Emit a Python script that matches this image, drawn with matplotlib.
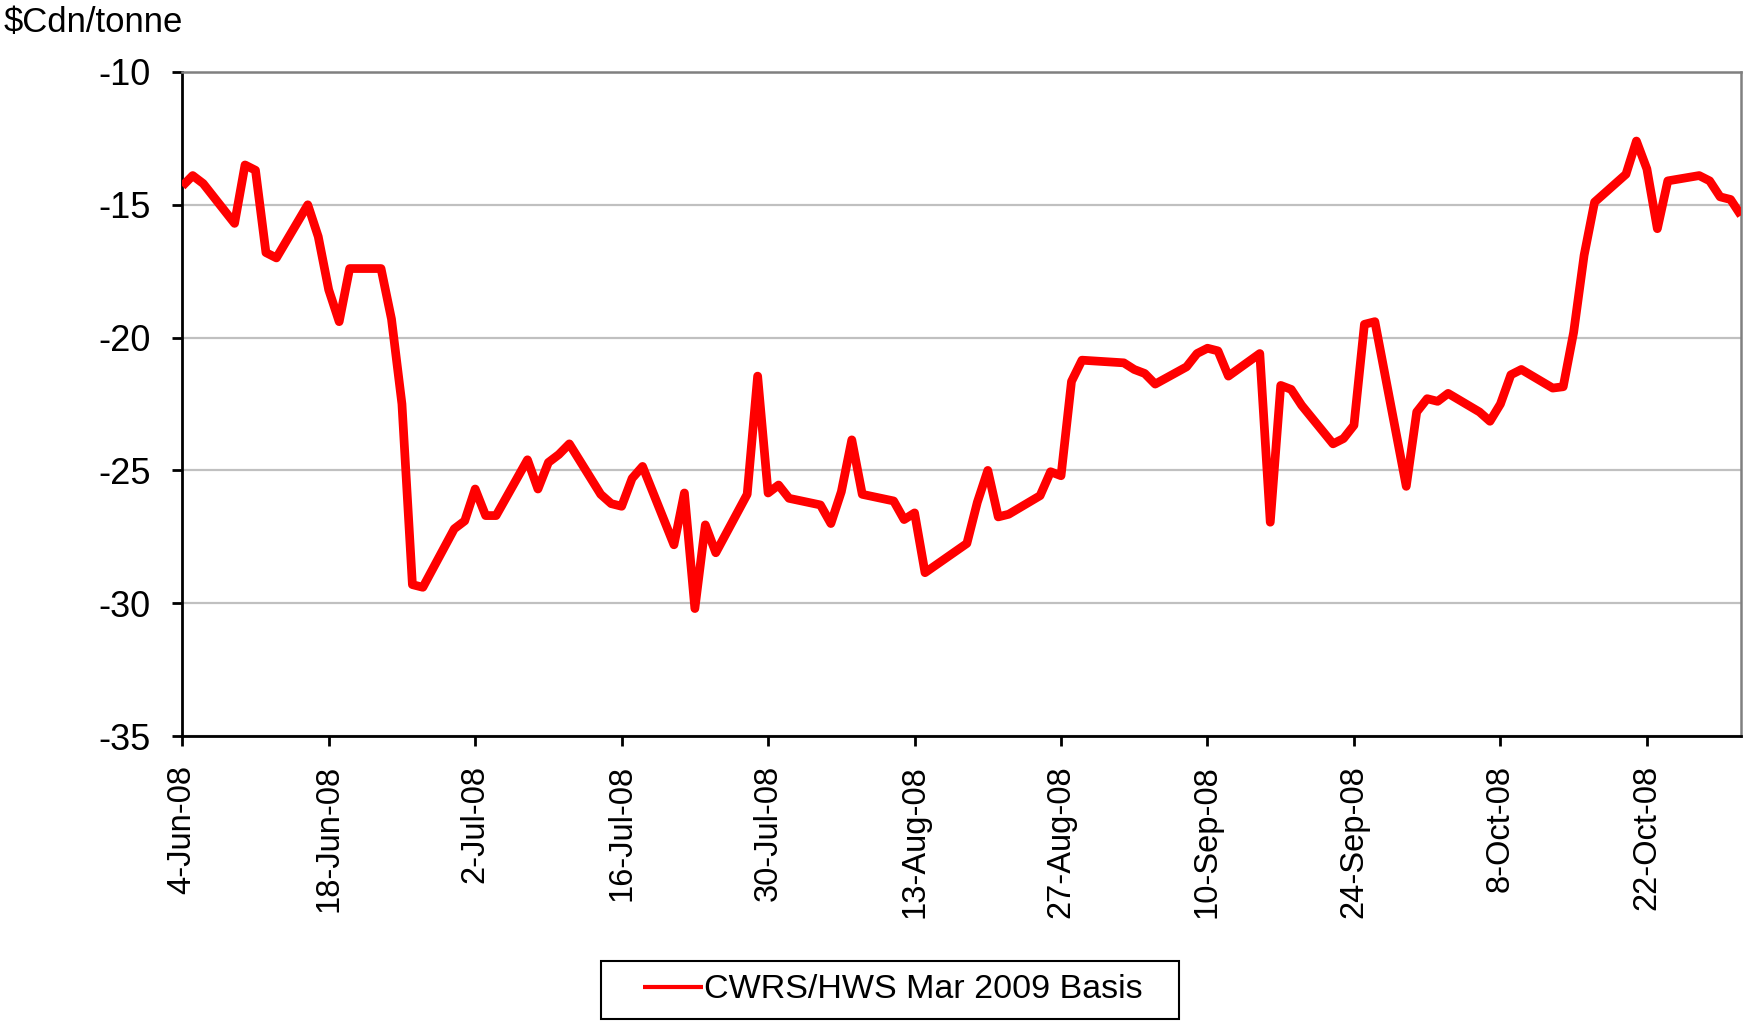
import matplotlib
matplotlib.use("Agg")
import matplotlib.pyplot as plt
import numpy as np
from matplotlib.patches import Rectangle

plt.rcParams['font.family'] = ['Liberation Sans', 'DejaVu Sans']

# CWRS/HWS March 2009 basis, $Cdn/tonne
dates = [
    "2008-06-04", "2008-06-05", "2008-06-06", "2008-06-09", "2008-06-10", "2008-06-11",
    "2008-06-12", "2008-06-13", "2008-06-16", "2008-06-17", "2008-06-18", "2008-06-19",
    "2008-06-20", "2008-06-23", "2008-06-24", "2008-06-25", "2008-06-26", "2008-06-27",
    "2008-06-30", "2008-07-01", "2008-07-02", "2008-07-03", "2008-07-04", "2008-07-07",
    "2008-07-08", "2008-07-09", "2008-07-10", "2008-07-11", "2008-07-14", "2008-07-15",
    "2008-07-16", "2008-07-17", "2008-07-18", "2008-07-21", "2008-07-22", "2008-07-23",
    "2008-07-24", "2008-07-25", "2008-07-28", "2008-07-29", "2008-07-30", "2008-07-31",
    "2008-08-01", "2008-08-04", "2008-08-05", "2008-08-06", "2008-08-07", "2008-08-08",
    "2008-08-11", "2008-08-12", "2008-08-13", "2008-08-14", "2008-08-18", "2008-08-19",
    "2008-08-20", "2008-08-21", "2008-08-22", "2008-08-25", "2008-08-26", "2008-08-27",
    "2008-08-28", "2008-08-29", "2008-09-02", "2008-09-03", "2008-09-04", "2008-09-05",
    "2008-09-08", "2008-09-09", "2008-09-10", "2008-09-11", "2008-09-12", "2008-09-15",
    "2008-09-16", "2008-09-17", "2008-09-18", "2008-09-19", "2008-09-22", "2008-09-23",
    "2008-09-24", "2008-09-25", "2008-09-26", "2008-09-29", "2008-09-30", "2008-10-01",
    "2008-10-02", "2008-10-03", "2008-10-06", "2008-10-07", "2008-10-08", "2008-10-09",
    "2008-10-10", "2008-10-13", "2008-10-14", "2008-10-15", "2008-10-16", "2008-10-17",
    "2008-10-20", "2008-10-21", "2008-10-22", "2008-10-23", "2008-10-24", "2008-10-27",
    "2008-10-28", "2008-10-29", "2008-10-30", "2008-10-31",
]
basis = [
    -14.3, -13.9, -14.2, -15.7, -13.5, -13.7,
    -16.8, -17.0, -15.0, -16.2, -18.2, -19.4,
    -17.4, -17.4, -19.3, -22.5, -29.3, -29.4,
    -27.2, -26.9, -25.7, -26.7, -26.7, -24.6,
    -25.7, -24.7, -24.4, -24.0, -25.9, -26.25,
    -26.35, -25.3, -24.85, -27.8, -25.85, -30.2,
    -27.05, -28.1, -25.9, -21.45, -25.85, -25.55,
    -26.05, -26.3, -27.0, -25.8, -23.85, -25.9,
    -26.15, -26.85, -26.6, -28.85, -27.75, -26.2,
    -25.0, -26.75, -26.65, -25.95, -25.05, -25.2,
    -21.65, -20.85, -20.95, -21.2, -21.35, -21.75,
    -21.1, -20.6, -20.4, -20.5, -21.45, -20.6,
    -26.95, -21.8, -21.95, -22.55, -24.0, -23.8,
    -23.3, -19.5, -19.4, -25.6, -22.8, -22.3,
    -22.4, -22.1, -22.8, -23.15, -22.5, -21.4,
    -21.2, -21.9, -21.85, -19.8, -16.9, -14.9,
    -13.85, -12.6, -13.65, -15.9, -14.1, -13.9,
    -14.1, -14.7, -14.8, -15.4,
]
series_label = "CWRS/HWS Mar 2009 Basis"
y_ticks = [-35, -30, -25, -20, -15, -10]

x = np.array(dates, dtype="datetime64[D]")
y = np.array(basis)

fig = plt.figure(figsize=(17.44, 10.21), dpi=100)
ax = fig.add_axes([0.1045, 0.2791, 0.8938, 0.6504])

ax.plot(x, y, color="#ff0000", lw=6.3, solid_joinstyle="round",
        solid_capstyle="butt", label=series_label, zorder=3)

ax.set_xlim(x[0], x[-1])
ax.set_ylim(-35, -10)
ax.set_yticks(y_ticks)
ax.set_yticklabels([str(v) for v in y_ticks])

xt = np.arange(x[0], x[-1] + 1, 14)
ax.set_xticks(xt)
ax.set_xticklabels([f"{d.day}-{d.strftime('%b-%y')}" for d in xt.astype(object)],
                   rotation=90, ha="center", va="top")

ax.grid(axis="y", color="#c0c0c0", lw=1.6, zorder=1)
for s in ("top", "right"):
    ax.spines[s].set_color("#808080")
    ax.spines[s].set_linewidth(1.8)
for s in ("left", "bottom"):
    ax.spines[s].set_color("black")
    ax.spines[s].set_linewidth(2)

ax.tick_params(axis="y", length=7.5, width=2, pad=15, labelsize=26)
ax.tick_params(axis="x", length=7, width=2, pad=14, labelsize=23.5)

fig.text(0.002, 0.9687, "$Cdn/tonne", fontsize=25, ha="left", va="baseline")

leg = ax.legend(loc="center", bbox_to_anchor=(0.512, 0.0304),
                bbox_transform=fig.transFigure, frameon=False,
                fontsize=24.5, handlelength=1.75, handletextpad=0.05)
leg.get_lines()[0].set_linewidth(3)
fig.patches.append(Rectangle((601 / 1744, 1 - 1019 / 1021), 578 / 1744, 58 / 1021,
                             transform=fig.transFigure, fill=False,
                             ec="black", lw=1.5))

fig.savefig("out.png", dpi=100)
